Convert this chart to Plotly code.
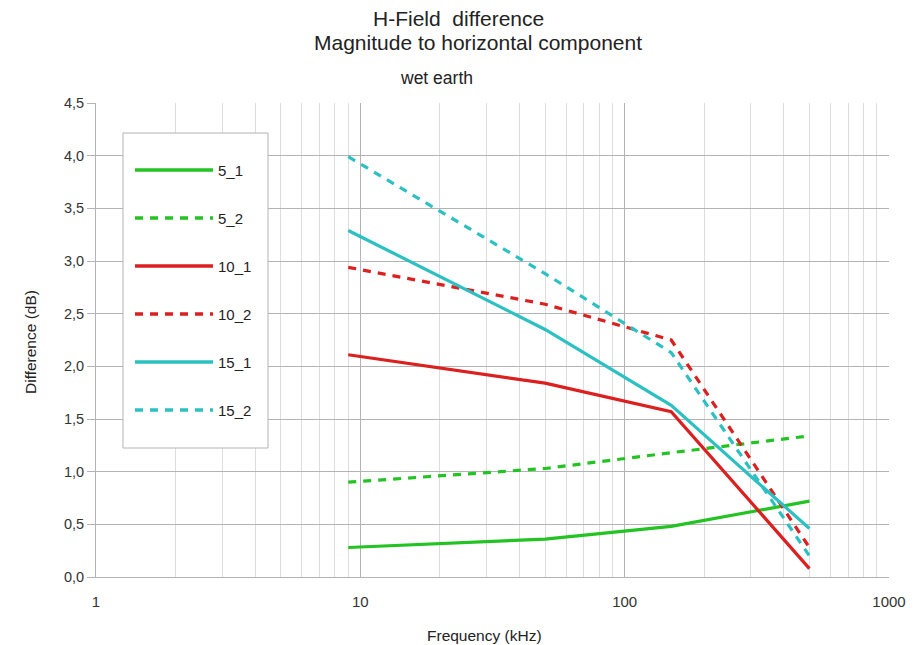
import plotly.graph_objects as go

freq = [9, 50, 150, 500]
series_names = ["5_1", "5_2", "10_1", "10_2", "15_1", "15_2"]
s5_1 = [0.28, 0.36, 0.48, 0.72]
s5_2 = [0.90, 1.03, 1.18, 1.34]
s10_1 = [2.11, 1.84, 1.57, 0.08]
s10_2 = [2.94, 2.59, 2.25, 0.28]
s15_1 = [3.29, 2.35, 1.63, 0.46]
s15_2 = [3.99, 2.88, 2.13, 0.20]
values = [s5_1, s5_2, s10_1, s10_2, s15_1, s15_2]
x_tick_vals = [1, 10, 100, 1000]
x_tick_text = ["1", "10", "100", "1000"]

GREEN = "#22c322"
RED = "#dc1f1f"
CYAN = "#2cc0c2"
colors = [GREEN, GREEN, RED, RED, CYAN, CYAN]
dashes = ["solid", "8px,7px", "solid", "8px,7px", "solid", "8px,7px"]

W, H = 920, 645
OFF = 8  # page body margin
L, R, T, B = 96 - OFF, W - (889 - OFF), 103 - OFF, H - (577 - OFF)
PW, PH = W - L - R, H - T - B


def px(x):
    return (x - OFF - L) / PW


def py(y):
    return (H - B - (y - OFF)) / PH


fig = go.Figure()
for name, vals, c, d in zip(series_names, values, colors, dashes):
    fig.add_trace(go.Scatter(
        x=freq, y=vals, name=name, mode="lines",
        line=dict(color=c, width=3.2, dash=d),
        showlegend=False,
    ))

FONT = "Liberation Sans, Arial"
TXT = "#222222"

annotations = [
    dict(text="H-Field  difference", x=px(458), y=py(19), size=21),
    dict(text="Magnitude to horizontal component", x=px(478), y=py(43), size=21),
    dict(text="wet earth", x=px(436), y=py(78), size=17.5),
    dict(text="Frequency (kHz)", x=px(484), y=py(635), size=15.5),
]
ann = []
for a in annotations:
    ann.append(dict(text=a["text"], x=a["x"], y=a["y"], xref="paper", yref="paper",
                    xanchor="center", yanchor="middle", showarrow=False,
                    font=dict(family=FONT, size=a["size"], color=TXT)))
ann.append(dict(text="Difference (dB)", x=px(30), y=py(342), xref="paper", yref="paper",
                xanchor="center", yanchor="middle", showarrow=False, textangle=-90,
                font=dict(family=FONT, size=15.5, color=TXT)))

# manual legend (box, sample lines, labels)
shapes = [dict(type="rect", xref="paper", yref="paper",
               x0=px(123), x1=px(268), y0=py(133), y1=py(448),
               line=dict(color="#b3b3b3", width=1), fillcolor="white", layer="above")]
leg_y = [170, 218, 266, 314, 362, 410]
for name, c, d, yy in zip(series_names, colors, dashes, leg_y):
    shapes.append(dict(type="line", xref="paper", yref="paper",
                       x0=px(135), x1=px(213), y0=py(yy), y1=py(yy),
                       line=dict(color=c, width=3.5, dash=d), layer="above"))
    ann.append(dict(text=name, x=px(216), y=py(yy), xref="paper", yref="paper",
                    xanchor="left", yanchor="middle", showarrow=False,
                    font=dict(family=FONT, size=15, color=TXT)))

fig.update_layout(
    width=W, height=H,
    margin=dict(l=L, r=R, t=T, b=B, autoexpand=False),
    paper_bgcolor="white", plot_bgcolor="white",
    separators=", ",
    font=dict(family=FONT, size=14, color="#333333"),
    showlegend=False,
    annotations=ann,
    shapes=shapes,
)

fig.update_xaxes(
    type="log", range=[0, 3],
    tickvals=x_tick_vals, ticktext=x_tick_text,
    showgrid=True, gridcolor="#b3b3b3", gridwidth=1,
    minor=dict(showgrid=True, gridcolor="#dddddd", dtick="D1", ticks=""),
    showline=True, linecolor="#b3b3b3",
    ticks="outside", ticklen=11, tickcolor="rgba(0,0,0,0)",
    zeroline=False,
    tickfont=dict(family=FONT, size=15, color="#333333"),
)
fig.update_yaxes(
    range=[0, 4.5], dtick=0.5, tickformat=".1f",
    showgrid=True, gridcolor="#b3b3b3", gridwidth=1,
    showline=True, linecolor="#b3b3b3",
    ticks="outside", ticklen=8, tickcolor="#b3b3b3",
    zeroline=False,
    tickfont=dict(family=FONT, size=14.5, color="#333333"),
)

fig.write_html("out.html")
